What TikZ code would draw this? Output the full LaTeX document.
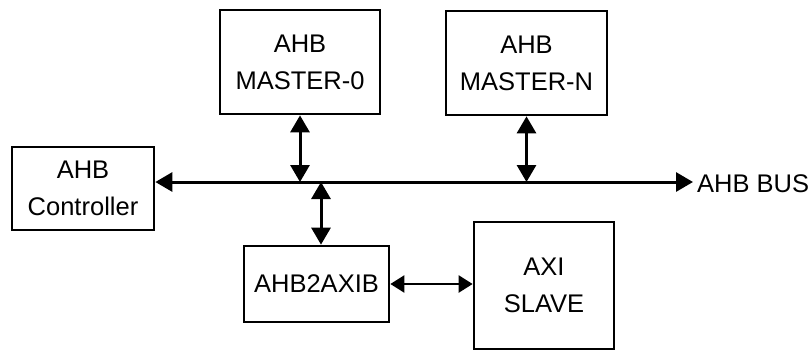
\documentclass[tikz,border=0pt]{standalone}
\usepackage{fontspec}
\setmainfont{Liberation Sans}
\usetikzlibrary{arrows.meta}
\begin{document}
\begin{tikzpicture}[x=1bp,y=-1bp,
  every node/.style={font=\fontsize{25.5bp}{37bp}\selectfont, align=center},
  blk/.style={draw=black, line width=2.7bp, rectangle, inner sep=0pt},
  dblarr/.style={line width=3bp, {Triangle[length=17bp,width=19bp]}-{Triangle[length=17bp,width=19bp]}},
  smallarr/.style={line width=2.3bp, {Triangle[length=14bp,width=17bp]}-{Triangle[length=14bp,width=17bp]}}
]
\useasboundingbox (0,0) rectangle (811,351);
\node[blk, minimum width=142bp, minimum height=83bp] (ctrl) at (83,188.5) {AHB\\Controller};
\node[blk, minimum width=160bp, minimum height=104bp] (m0) at (300,62) {AHB\\MASTER-0};
\node[blk, minimum width=161bp, minimum height=104bp] (mN) at (526.5,63) {AHB\\MASTER-N};
\node[blk, minimum width=145bp, minimum height=76bp] (bridge) at (316.5,284) {AHB2AXIB};
\node[blk, minimum width=140bp, minimum height=127bp] (axi) at (544,285.5) {AXI\\SLAVE};
\node[anchor=west, inner sep=0pt] (buslbl) at (697,184) {AHB BUS};
\coordinate (busR) at (693,182);
\draw[dblarr] (ctrl.east |- busR) -- (busR);
\draw[dblarr] (m0.south) -- (m0.south |- busR);
\draw[dblarr] (mN.south) -- (mN.south |- busR);
\draw[dblarr] ([xshift=4.5bp]bridge.north |- busR) -- ([xshift=4.5bp]bridge.north);
\draw[smallarr] (bridge.east) -- (axi.west |- bridge.east);
\end{tikzpicture}
\end{document}
